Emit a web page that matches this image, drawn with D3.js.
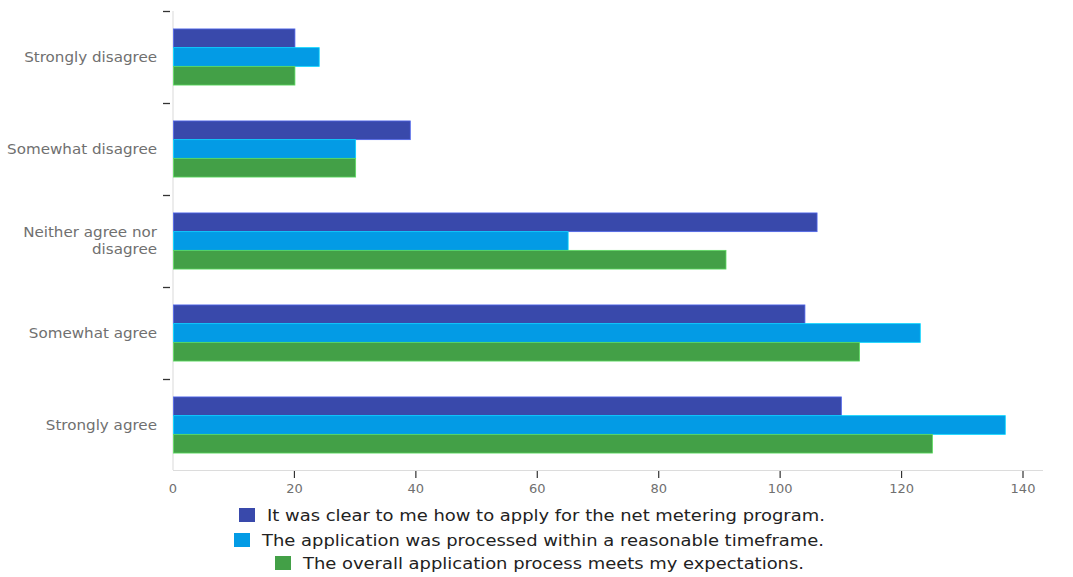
<!DOCTYPE html>
<html>
<head>
<meta charset="utf-8">
<script src="https://cdn.jsdelivr.net/npm/d3@7"></script>
<style>
  html, body { margin: 0; padding: 0; background: #fff; }
  svg { display: block; font-family: "DejaVu Sans", "Noto Sans", sans-serif; }
</style>
</head>
<body>
<svg id="chart" width="1073" height="577"></svg>
<script>
// Survey responses per statement
const categories = ["Strongly disagree", "Somewhat disagree", "Neither agree nor disagree", "Somewhat agree", "Strongly agree"];
const categoryLines = [["Strongly disagree"], ["Somewhat disagree"], ["Neither agree nor", "disagree"], ["Somewhat agree"], ["Strongly agree"]];
const seriesNames = [
  "It was clear to me how to apply for the net metering program.",
  "The application was processed within a reasonable timeframe.",
  "The overall application process meets my expectations."
];
const clearToApply = [20, 39, 106, 104, 110];
const processedTimely = [24, 30, 65, 123, 137];
const meetsExpectations = [20, 30, 91, 113, 125];
const seriesValues = [clearToApply, processedTimely, meetsExpectations];
const seriesColors = ["#3949AB", "#039BE5", "#43A047"];
const xTicks = [0, 20, 40, 60, 80, 100, 120, 140];

const svg = d3.select("#chart");
const plotLeft = 173, plotRight = 1023, plotTop = 11, plotBottom = 471;
const stretch = 1.12; // slightly wide lettering

function widen(sel) {
  sel.each(function () {
    const w = this.getComputedTextLength();
    d3.select(this).attr("textLength", w * stretch).attr("lengthAdjust", "spacingAndGlyphs");
  });
}

const x = d3.scaleLinear().domain([0, 140]).range([plotLeft, plotRight]);
const y = d3.scaleBand().domain(categories).range([plotTop, plotBottom]).paddingInner(0.39).paddingOuter(0.195);
const yInner = d3.scaleBand().domain(d3.range(seriesNames.length)).range([0, y.bandwidth()]);

// Axis lines
svg.append("line").attr("x1", plotLeft).attr("x2", plotLeft).attr("y1", plotTop).attr("y2", plotBottom - 1)
  .attr("stroke", "#d9d9d9").attr("stroke-width", 1);
svg.append("line").attr("x1", plotLeft).attr("x2", 1043).attr("y1", plotBottom - 0.5).attr("y2", plotBottom - 0.5)
  .attr("stroke", "#dcdcdc").attr("stroke-width", 1);

// Category boundary ticks on the vertical axis
const step = y.step();
const boundaries = d3.range(categories.length).map(i => plotTop + i * step);
svg.selectAll(".ytick").data(boundaries).enter().append("line")
  .attr("x1", 163).attr("x2", 170)
  .attr("y1", d => d + 0.5).attr("y2", d => d + 0.5)
  .attr("stroke", "#333").attr("stroke-width", 1.3);

// Category labels
const labels = svg.selectAll(".ylabel").data(categories).enter().append("g");
labels.each(function (d, i) {
  const lines = categoryLines[i];
  const cy = y(d) + y.bandwidth() / 2;
  const lh = 17.5;
  const y0 = cy - (lines.length - 1) * lh / 2;
  lines.forEach((ln, j) => {
    const t = d3.select(this).append("text")
      .attr("text-anchor", "end")
      .attr("fill", "#707070")
      .attr("font-size", 13.5)
      .attr("x", 157).attr("y", y0 + j * lh).attr("dy", "0.35em").text(ln);
    widen(t);
  });
});

// Bars
const groups = svg.selectAll(".grp").data(categories).enter().append("g")
  .attr("transform", d => `translate(0,${y(d)})`);
groups.selectAll("rect")
  .data((d, i) => seriesValues.map((vals, s) => ({ s, v: vals[i] })))
  .enter().append("rect")
  .attr("x", x(0) + 0.5)
  .attr("y", d => yInner(d.s))
  .attr("width", d => x(d.v) - x(0))
  .attr("height", yInner.bandwidth())
  .attr("fill", d => seriesColors[d.s])
  .attr("stroke", d => d3.color(seriesColors[d.s]).brighter(0.9))
  .attr("stroke-width", 0.8);

// Horizontal axis ticks and labels
const xt = svg.selectAll(".xtick").data(xTicks).enter().append("g")
  .attr("transform", d => `translate(${x(d)},0)`);
xt.filter(d => d !== 0).append("line")
  .attr("y1", plotBottom).attr("y2", plotBottom + 7)
  .attr("stroke", "#333").attr("stroke-width", 1.2);
xt.append("text")
  .attr("y", 488).attr("dy", "0.35em")
  .attr("text-anchor", "middle")
  .attr("fill", "#707070").attr("font-size", 13)
  .text(d => d);

// Legend, one row per series
const legendY = [515, 540, 563];
const legendLeft = [239, 234, 275];
seriesNames.forEach((name, i) => {
  const g = svg.append("g");
  g.append("rect").attr("x", legendLeft[i]).attr("y", legendY[i] - 7).attr("width", 16).attr("height", 14)
    .attr("fill", seriesColors[i]);
  const t = g.append("text")
    .attr("x", legendLeft[i] + 28)
    .attr("y", legendY[i]).attr("dy", "0.35em")
    .attr("fill", "#222").attr("font-size", 16)
    .text(name);
  widen(t);
});
</script>
</body>
</html>
